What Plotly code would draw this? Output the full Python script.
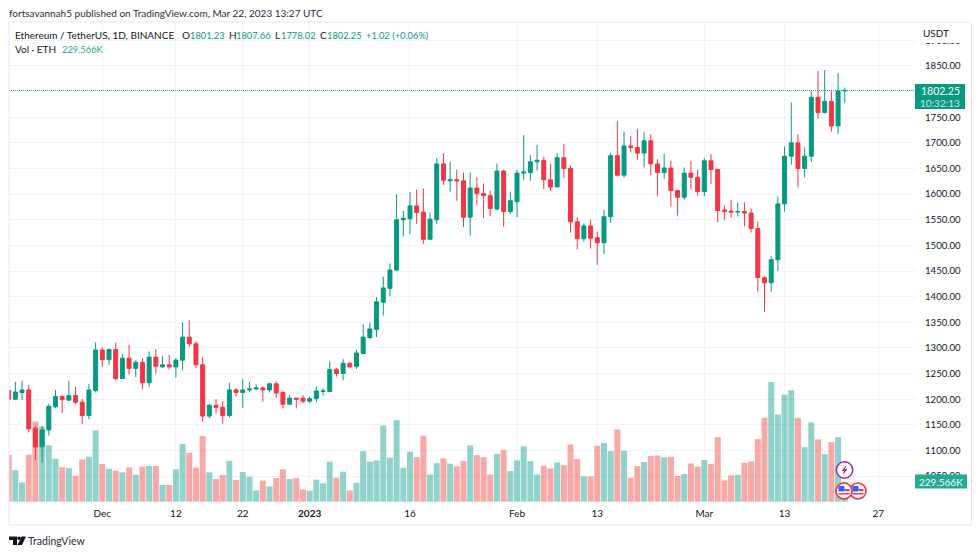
import pandas as pd
import plotly.graph_objects as go

UP = "#089981"
DOWN = "#f23645"
FONT = "Lato"
W, H = 980, 554

dates = pd.date_range("2022-11-17", "2023-03-22", freq="D")

opens = [
    1217, 1200, 1213, 1218, 1143, 1107, 1140, 1185, 1205, 1198, 1207, 1194, 1168, 1217,
    1296, 1277, 1297, 1240, 1280, 1260, 1272, 1232, 1282, 1263, 1267, 1263, 1276, 1321, 1308, 1267,
    1167, 1188, 1184, 1168, 1218, 1213, 1218, 1220, 1222, 1218, 1230, 1213, 1190, 1202, 1202,
    1196, 1201, 1215, 1215, 1258, 1250, 1270, 1264, 1289, 1320, 1336, 1389, 1416, 1452, 1550, 1552,
    1577, 1565, 1512, 1550, 1659, 1626, 1628, 1626, 1555, 1612, 1601, 1597, 1571, 1645, 1566,
    1585, 1641, 1642, 1663, 1666, 1628, 1614, 1671, 1650, 1546, 1513, 1538, 1515, 1505, 1556, 1675,
    1637, 1694, 1691, 1680, 1704, 1659, 1642, 1651, 1607, 1594, 1641, 1633,
    1605, 1665, 1648, 1569, 1567, 1565, 1566, 1563, 1533, 1437, 1427, 1472, 1581, 1674, 1700, 1650,
    1674, 1789, 1759, 1781, 1733, 1801.23,
]
highs = [
    1230, 1234, 1236, 1228, 1148, 1148, 1191, 1218, 1208, 1236, 1224, 1200, 1230, 1311,
    1301, 1298, 1310, 1288, 1306, 1276, 1280, 1293, 1298, 1284, 1286, 1280, 1350, 1354, 1313, 1282,
    1191, 1200, 1196, 1232, 1222, 1239, 1234, 1229, 1225, 1232, 1235, 1217, 1208, 1202, 1208,
    1205, 1225, 1221, 1274, 1261, 1278, 1272, 1297, 1346, 1349, 1399, 1439, 1465, 1600, 1567, 1604,
    1609, 1611, 1564, 1670, 1680, 1663, 1648, 1642, 1642, 1633, 1621, 1607, 1660, 1648, 1605,
    1648, 1715, 1676, 1696, 1673, 1659, 1680, 1698, 1656, 1555, 1543, 1550, 1527, 1569, 1680, 1743,
    1722, 1713, 1727, 1721, 1717, 1668, 1679, 1665, 1609, 1652, 1665, 1648,
    1670, 1678, 1650, 1578, 1589, 1584, 1584, 1572, 1547, 1439, 1479, 1595, 1693, 1779, 1717, 1691,
    1800, 1840, 1842, 1803, 1836, 1807.66,
]
lows = [
    1182, 1198, 1198, 1135, 1081, 1076, 1129, 1182, 1173, 1197, 1190, 1152, 1161, 1213,
    1263, 1267, 1237, 1240, 1248, 1243, 1220, 1224, 1250, 1261, 1258, 1242, 1256, 1302, 1261, 1156,
    1163, 1172, 1152, 1164, 1205, 1183, 1213, 1217, 1195, 1213, 1202, 1182, 1189, 1182, 1192,
    1192, 1194, 1207, 1214, 1244, 1237, 1262, 1259, 1287, 1318, 1321, 1363, 1401, 1450, 1517, 1522,
    1542, 1503, 1511, 1542, 1618, 1605, 1587, 1536, 1519, 1579, 1553, 1557, 1568, 1536, 1561,
    1555, 1628, 1626, 1646, 1610, 1606, 1613, 1631, 1525, 1492, 1507, 1494, 1462, 1483, 1544, 1634,
    1632, 1681, 1667, 1652, 1637, 1596, 1630, 1576, 1558, 1589, 1609, 1597,
    1596, 1620, 1545, 1550, 1554, 1556, 1537, 1525, 1410, 1370, 1410, 1450, 1566, 1657, 1613, 1633,
    1663, 1747, 1758, 1722, 1717, 1778.02,
]
closes = [
    1200, 1214, 1218, 1142, 1107, 1140, 1186, 1205, 1199, 1207, 1194, 1168, 1218, 1296,
    1277, 1297, 1240, 1280, 1260, 1272, 1232, 1282, 1264, 1267, 1263, 1276, 1321, 1308, 1267, 1167,
    1188, 1184, 1168, 1218, 1213, 1218, 1220, 1222, 1218, 1230, 1212, 1190, 1202, 1200, 1196,
    1201, 1216, 1216, 1258, 1250, 1270, 1263, 1290, 1321, 1337, 1390, 1417, 1452, 1550, 1553, 1577,
    1564, 1512, 1551, 1659, 1627, 1628, 1626, 1555, 1612, 1601, 1597, 1572, 1645, 1566, 1587,
    1641, 1643, 1663, 1666, 1628, 1614, 1671, 1650, 1546, 1513, 1538, 1514, 1505, 1556, 1675, 1637,
    1694, 1691, 1680, 1704, 1659, 1642, 1651, 1607, 1594, 1641, 1633, 1605,
    1665, 1648, 1568, 1566, 1565, 1566, 1563, 1533, 1437, 1427, 1472, 1581, 1674, 1700, 1650, 1674,
    1789, 1759, 1781, 1733, 1801, 1802.25,
]
volumes = [
    540, 364, 222, 540, 923, 862, 647, 494, 398, 387, 299, 486, 517, 820,
    433, 379, 356, 337, 394, 310, 402, 410, 410, 192, 192, 372, 663, 563, 394, 755,
    337, 260, 306, 471, 249, 341, 287, 130, 241, 176, 272, 372, 260, 272, 142,
    126, 253, 211, 460, 276, 345, 130, 218, 582, 460, 475, 877, 506, 938, 391, 575,
    513, 758, 314, 444, 498, 437, 406, 467, 647, 536, 513, 314, 552, 597, 352,
    475, 636, 467, 314, 414, 383, 452, 421, 659, 490, 291, 291, 643, 674, 582, 831,
    586, 276, 410, 456, 525, 532, 509, 517, 295, 318, 440, 402,
    479, 433, 743, 245, 303, 310, 448, 463, 720, 965, 1375, 1003, 1233, 1283, 965, 628,
    912, 716, 548, 686, 743, 229.566,
]

x_tick_dates = ["2022-12-01", "2022-12-12", "2022-12-22", "2023-01-01", "2023-01-16",
                "2023-02-01", "2023-02-13", "2023-03-01", "2023-03-13", "2023-03-27"]
x_tick_labels = ["Dec", "12", "22", "<b>2023</b>", "16", "Feb", "13", "Mar", "13", "27"]
price_ticks = list(range(1050, 1901, 50))
# the 1800 label sits under the last price box in the reference
price_labels = ["" if p == 1800 else f"{p}.00" for p in price_ticks]

legend_row = [
    (15, "Ethereum / TetherUS, 1D, BINANCE", "#131722", 10),
    (182, "O", "#131722", 10), (190, "1801.23", UP, 9.3),
    (229, "H", "#131722", 10), (236, "1807.66", UP, 9.3),
    (275, "L", "#131722", 10), (281, "1778.02", UP, 9.3),
    (320, "C", "#131722", 10), (327, "1802.25", UP, 9.3),
    (366, "+1.02 (+0.06%)", UP, 9.3),
]


def fx(x):
    return x / W


def fy(y):
    return 1 - y / H


def label(x, y, text, size=10, color="#131722", **kw):
    fig.add_annotation(x=fx(x), y=fy(y), xref="paper", yref="paper", text=text, showarrow=False,
                       xanchor=kw.pop("xanchor", "left"), yanchor="middle", borderpad=0, borderwidth=0,
                       font=dict(family=FONT, size=size, color=color), **kw)


def poly(points, color):
    path = "M" + " L".join(f"{fx(x)},{fy(y)}" for x, y in points) + " Z"
    fig.add_shape(type="path", path=path, xref="paper", yref="paper", fillcolor=color, line_width=0)


def rect(x0, y0, x1, y1, fill="rgba(0,0,0,0)", line="rgba(0,0,0,0)", width=0):
    fig.add_shape(type="rect", xref="paper", yref="paper", x0=fx(x0), x1=fx(x1), y0=fy(y1), y1=fy(y0),
                  fillcolor=fill, line=dict(color=line, width=width))


def disc(cx, cy, r, fill, line, width=1.5):
    fig.add_shape(type="circle", xref="paper", yref="paper", x0=fx(cx - r), x1=fx(cx + r),
                  y0=fy(cy + r), y1=fy(cy - r), fillcolor=fill, line=dict(color=line, width=width))


def flag(cx, cy):
    disc(cx, cy, 8, "#ffffff", DOWN, 1.6)
    rect(cx - 5.5, cy - 5, cx + 0.5, cy + 0.5, fill="#2962ff")
    rect(cx + 0.5, cy - 2, cx + 5.5, cy, fill=DOWN)
    rect(cx - 5.5, cy + 2, cx + 5.5, cy + 3.5, fill=DOWN)


fig = go.Figure()

bar_colors = ["rgba(38,166,154,0.5)" if c >= o else "rgba(239,83,80,0.5)" for o, c in zip(opens, closes)]
fig.add_trace(go.Bar(x=dates, y=volumes, marker=dict(color=bar_colors, line_width=0), yaxis="y"))
fig.add_trace(go.Candlestick(
    x=dates, open=opens, high=highs, low=lows, close=closes, yaxis="y2", whiskerwidth=0,
    increasing=dict(line=dict(color=UP, width=1), fillcolor=UP),
    decreasing=dict(line=dict(color=DOWN, width=1), fillcolor=DOWN),
))

fig.update_layout(
    width=W, height=H, margin=dict(l=0, r=0, t=0, b=0), showlegend=False,
    paper_bgcolor="#ffffff", plot_bgcolor="#ffffff", bargap=0.1, boxgap=0.15,
    font=dict(family=FONT, size=10, color="#131722"),
    xaxis=dict(
        type="date", domain=[fx(9), fx(915)], range=["2022-11-17 01:12", "2023-04-01 12:00"],
        tickmode="array", tickvals=x_tick_dates, ticktext=x_tick_labels, ticks="", showline=False,
        showgrid=True, gridcolor="#f2f3f5", gridwidth=1, zeroline=False, rangeslider=dict(visible=False),
        tickfont=dict(family=FONT, size=10, color="#131722"), ticklabelstandoff=3,
    ),
    yaxis=dict(domain=[fy(503), fy(22)], range=[-15, 5517], visible=False, fixedrange=True),
    yaxis2=dict(
        overlaying="y", side="right", anchor="x", range=[997.4, 1935.8], tickmode="array",
        tickvals=price_ticks, ticktext=price_labels, showgrid=True, gridcolor="#f2f3f5", gridwidth=1,
        zeroline=False, showline=False, ticks="", ticklabelstandoff=9,
        tickfont=dict(family=FONT, size=9.6, color="#131722"),
    ),
)

fig.add_shape(type="line", xref="paper", yref="y2", x0=fx(9), x1=fx(915), y0=closes[-1], y1=closes[-1],
              line=dict(color="#22ab94", width=1, dash="1px,1px"))

# pane frame, white strip keeps the 1900 label half hidden under the currency
rect(9, 22, 971.5, 525, line="#e6e8ee", width=1)
rect(916, 23, 971, 43, fill="#ffffff")

label(9, 13, "fortsavannah5 published on TradingView.com, Mar 22, 2023 13:27 UTC", size=10, color="#2a2e39")
for x, text, color, size in legend_row:
    label(x, 35, text, size=size, color=color)
label(15, 49, "Vol · ETH", size=10)
label(62, 49, "229.566K", size=9.3, color="#22ab94")
label(923, 33, "USDT", size=10)

rect(915, 84, 965, 109, fill=UP)
label(940, 91, "1802.25", size=10.5, color="#ffffff", xanchor="center")
label(940, 103, "10:32:13", size=10, color="#c8e8e2", xanchor="center")
rect(915, 474.5, 967, 488.5, fill="#22ab94")
label(941, 481.5, "229.566K", size=10, color="#ffffff", xanchor="center")

# event markers on the last bars
disc(844.5, 470, 8.2, "#ffffff", "#9c27b0")
poly([(846.5, 465), (841.5, 471), (844, 471), (842.7, 475), (847.5, 469), (845, 469)], "#9c27b0")
flag(858, 491)
flag(844, 491)

# TradingView logo
poly([(9, 536.5), (17, 536.5), (17, 545), (13, 545), (13, 540), (9, 540)], "#131722")
disc(19, 538.3, 1.8, "#131722", "#131722", 0)
poly([(21.5, 536.5), (26, 536.5), (22, 545), (17.5, 545)], "#131722")
label(28, 541, "TradingView", size=10.5, color="#2a2e39")

fig.write_html("out.html", config={"displayModeBar": False}, post_script="document.body.style.margin='0';")
